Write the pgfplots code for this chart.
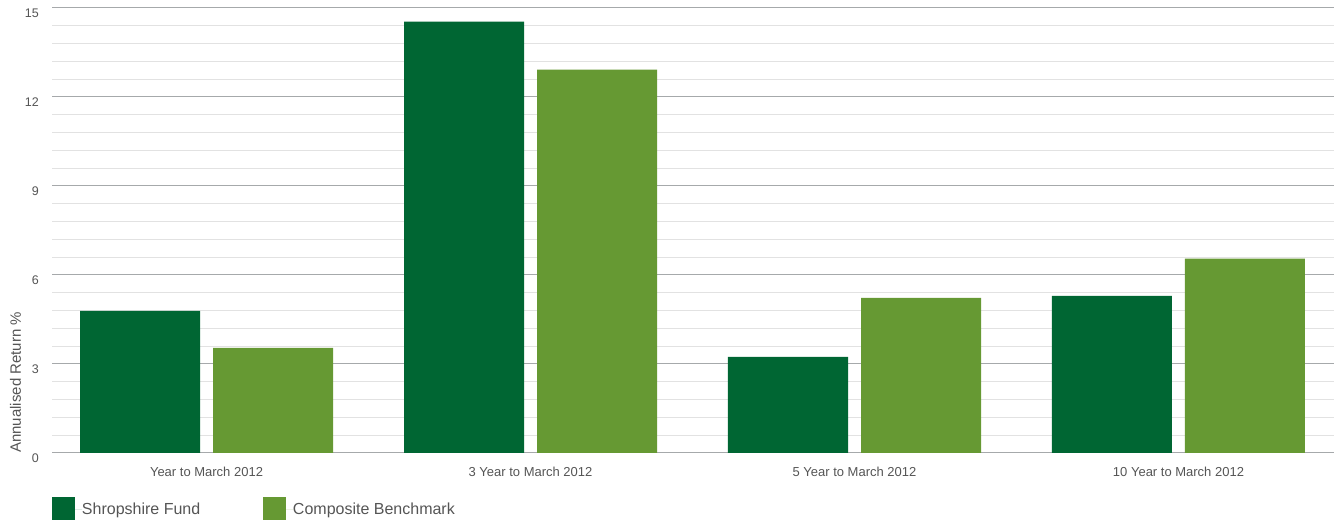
\documentclass[border=0pt]{standalone}
\usepackage{pgfplots}
\pgfplotsset{compat=1.18}
\usepackage{fontspec}
\setmainfont{Liberation Sans}
\definecolor{fundc}{HTML}{006633}
\definecolor{benchc}{HTML}{669933}
\definecolor{majgrid}{HTML}{A6A9AB}
\definecolor{mingrid}{HTML}{E2E2E2}
\definecolor{txt}{HTML}{555555}
\begin{document}
\begin{tikzpicture}
\path[use as bounding box] (0,0) rectangle (1341pt,522pt);
\begin{axis}[
  at={(52pt,69pt)}, anchor=south west,
  scale only axis, width=1282pt, height=445pt,
  ybar=13pt, bar width=120pt,
  xmin=-0.4769, xmax=3.480,
  ymin=0, ymax=15,
  ytick={0,3,6,9,12,15},
  minor y tick num=4,
  xtick={0,1,2,3},
  xticklabels={Year to March 2012,3 Year to March 2012,5 Year to March 2012,10 Year to March 2012},
  major tick length=0pt, minor tick length=0pt,
  axis line style={draw=none},
  ymajorgrids, yminorgrids,
  major grid style={draw=majgrid, line width=1pt},
  minor grid style={draw=mingrid, line width=1pt},
  /pgf/number format/assume math mode=true,
  yticklabel style={font=\fontsize{12.5}{14}\selectfont, text=txt, inner sep=0pt, xshift=-13pt, yshift=-5.5pt},
  xticklabel style={font=\fontsize{13}{15}\selectfont, text=txt, inner sep=0pt, yshift=-13.5pt},
  ylabel={Annualised Return \%},
  ylabel style={font=\fontsize{15}{17}\selectfont, text=txt, inner sep=0pt, at={(axis description cs:-0.0285,0)}, anchor=west, rotate=0},
  legend style={draw=none, fill=none, inner sep=0pt, outer sep=0pt, at={(0,-0.0989)}, anchor=north west,
    font=\fontsize{16}{18}\selectfont, text=txt, nodes={inner sep=0pt}},
  legend columns=2,
  legend image code/.code={\fill[#1,draw=none] (0pt,-10.8pt) rectangle (23pt,12.2pt); \path (23pt,0pt) -- (30pt,0pt);},
]
\addplot[fill=fundc, draw=none] coordinates {(0,4.79) (1,14.54) (2,3.24) (3,5.30)};
\addplot[fill=benchc, draw=none] coordinates {(0,3.54) (1,12.92) (2,5.23) (3,6.55)};
\addlegendentry{\makebox[181pt][l]{Shropshire Fund}}
\addlegendentry{Composite Benchmark}
\end{axis}
\end{tikzpicture}
\end{document}
